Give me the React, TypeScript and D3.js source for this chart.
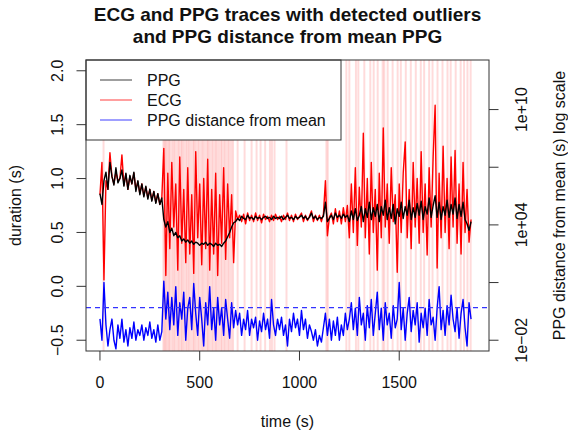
import * as d3 from 'd3'

// samples every 10 s, starting at t = 0
const SAMPLE_STEP = 10

// PPG beat duration (s)
const ppg = [
  0.86, 0.76, 0.98, 1.06, 0.90, 1.15, 1.02, 0.94, 1.10, 0.96,
  1.00, 1.08, 0.93, 1.05, 0.90, 1.03, 0.95, 1.06, 0.88, 0.98,
  0.85, 0.95, 0.83, 0.93, 0.81, 0.90, 0.79, 0.88, 0.77, 0.86,
  0.76, 0.82, 0.62, 0.55, 0.60, 0.50, 0.54, 0.47, 0.50, 0.45,
  0.47, 0.42, 0.44, 0.41, 0.43, 0.40, 0.42, 0.39, 0.41, 0.40,
  0.38, 0.40, 0.39, 0.41, 0.38, 0.40, 0.39, 0.37, 0.40, 0.38,
  0.39, 0.37, 0.40, 0.42, 0.46, 0.50, 0.55, 0.59, 0.60, 0.63,
  0.61, 0.65, 0.63, 0.62, 0.66, 0.63, 0.64, 0.62, 0.65, 0.63,
  0.64, 0.62, 0.64, 0.65, 0.63, 0.64, 0.62, 0.65, 0.63, 0.64,
  0.63, 0.65, 0.62, 0.64, 0.66, 0.63, 0.64, 0.62, 0.65, 0.63,
  0.64, 0.66, 0.63, 0.65, 0.62, 0.64, 0.68, 0.63, 0.65, 0.62,
  0.64, 0.63, 0.65, 0.78, 0.60, 0.63, 0.66, 0.62, 0.68, 0.64,
  0.66, 0.63, 0.67, 0.64, 0.66, 0.60, 0.70, 0.62, 0.72, 0.61,
  0.66, 0.74, 0.60, 0.72, 0.64, 0.78, 0.62, 0.73, 0.65, 0.76,
  0.60, 0.74, 0.66, 0.80, 0.62, 0.73, 0.63, 0.76, 0.58, 0.72,
  0.65, 0.78, 0.63, 0.74, 0.66, 0.80, 0.62, 0.73, 0.64, 0.77,
  0.66, 0.79, 0.62, 0.74, 0.67, 0.82, 0.64, 0.75, 0.84, 0.64,
  0.78, 0.62, 0.74, 0.66, 0.80, 0.64, 0.76, 0.67, 0.82, 0.63,
  0.76, 0.65, 0.78, 0.62, 0.58, 0.52, 0.60,
]

// ECG RR duration (s)
const ecg = [
  0.85, 1.15, 0.06, 0.98, 0.90, 1.24, 1.02, 0.95, 1.06, 0.98,
  1.00, 1.22, 0.94, 1.04, 0.90, 1.02, 0.95, 1.05, 0.90, 0.97,
  0.86, 0.95, 0.84, 0.92, 0.82, 0.90, 0.80, 0.88, 0.78, 0.86,
  0.76, 0.82, 1.28, 0.10, 1.05, 0.35, 1.15, 0.55, 0.95, 0.15,
  1.20, 0.40, 0.90, 0.22, 1.10, 0.30, 0.85, 0.12, 1.25, 0.45,
  0.95, 0.20, 1.00, 0.35, 1.18, 0.15, 0.90, 0.30, 1.05, 0.10,
  0.85, 0.40, 1.10, 0.25, 0.95, 0.45, 0.85, 0.22, 0.70, 0.62,
  0.66, 0.60, 0.67, 0.58, 0.68, 0.61, 0.66, 0.60, 0.68, 0.61,
  0.66, 0.59, 0.67, 0.62, 0.65, 0.60, 0.66, 0.61, 0.67, 0.62,
  0.65, 0.60, 0.66, 0.62, 0.68, 0.61, 0.66, 0.60, 0.67, 0.62,
  0.65, 0.68, 0.60, 0.66, 0.61, 0.65, 0.70, 0.60, 0.66, 0.61,
  0.66, 0.60, 0.67, 0.98, 0.47, 0.64, 0.68, 0.58, 0.72, 0.60,
  0.70, 0.58, 0.73, 0.60, 0.75, 0.45, 0.95, 0.50, 1.10, 0.38,
  0.92, 0.55, 1.42, 0.45, 1.00, 0.30, 1.15, 0.50, 0.90, 0.15,
  1.05, 0.45, 1.47, 0.55, 0.95, 0.40, 1.10, 0.60, 0.85, 0.13,
  0.95, 0.50, 1.05, 1.34, 0.45, 0.90, 0.35, 1.15, 0.55, 1.00,
  0.40, 1.25, 0.50, 0.95, 0.29, 1.10, 0.55, 1.20, 1.68, 0.17,
  1.05, 0.45, 1.30, 0.50, 1.00, 0.35, 1.20, 0.55, 1.26, 0.40,
  0.95, 0.30, 1.15, 0.50, 0.90, 0.41, 0.62,
]

// PPG distance from mean PPG, log10(s), right axis
const ppgDistLog10 = [
  -0.89, -2.0, 1.0, -1.2, -2.3, -1.45, -0.9, -2.0, -2.45, -1.2,
  -1.9, -0.9, -2.1, -1.45, -2.3, -1.35, -1.9, -1.05, -2.0, -1.45,
  -1.75, -1.2, -2.0, -1.35, -1.75, -1.05, -1.9, -1.45, -2.1, -1.2,
  -2.0, -1.55, 1.07, -0.9, 0.5, -1.45, 0.23, -1.2, 0.79, -1.75,
  -0.05, -0.9, 0.5, -2.0, -0.33, 0.23, -1.45, 0.95, -0.6, -1.75,
  0.23, -0.9, -2.3, -0.05, -1.2, 0.79, -1.45, -0.33, -2.0, 0.23,
  -1.2, -0.33, -1.75, 0.12, -0.9, -1.9, -0.05, -1.35, -0.45, -1.2,
  -0.6, -1.75, -0.9, -1.45, -0.45, -1.75, -0.9, -1.35, -0.8, -2.0,
  -1.0, -1.55, -0.6, -1.45, -0.9, -1.9, 0.12, -1.2, -1.75, -0.9,
  -1.45, -0.8, -1.75, -1.2, -2.3, -0.9, -1.55, -0.6, -1.35, -0.9,
  -1.75, -0.45, -1.45, -0.9, -1.9, -1.2, -1.55, -2.0, -1.45, -2.3,
  -1.75, -2.1, -1.35, -0.6, -1.75, -0.9, -2.0, -1.0, -1.75, -0.8,
  -2.0, -1.2, -1.75, -0.6, -1.45, -0.9, -0.05, -1.45, -0.33, -1.75,
  0.23, -1.2, -0.6, -2.0, -0.2, -1.35, 0.12, -1.75, -0.6, 0.5,
  -1.45, -0.33, -2.0, -0.05, -1.2, -0.6, -1.9, -0.2, -1.35, -0.9,
  1.0, -1.45, -0.33, -2.0, -0.6, 0.23, -1.55, -0.45, -1.2, -0.05,
  -2.1, -0.6, -1.35, -0.33, -1.75, 0.12, -1.2, -0.8, -2.0, -0.33,
  0.79, -1.45, -0.45, -1.75, -0.2, -1.2, 0.34, -0.9, -1.55, -0.33,
  -1.9, -0.6, 0.12, -1.35, -2.3, -0.05, -0.9,
]

// times (s) of detected outliers
const outlierTimes = [
  18, 318, 324, 330, 338, 345, 352, 362, 370, 378, 388, 396, 405, 412, 420,
  430, 438, 446, 455, 465, 472, 480, 490, 498, 508, 516, 525, 535, 542, 550,
  560, 568, 578, 585, 595, 605, 612, 622, 630, 640, 648, 658, 667, 690, 725,
  760, 785, 805, 828, 852, 862, 875, 935, 1135, 1142, 1235, 1250, 1283, 1295,
  1325, 1355, 1372, 1392, 1417, 1425, 1442, 1467, 1492, 1508, 1533, 1558,
  1583, 1608, 1625, 1650, 1667, 1692, 1717, 1742, 1758, 1783, 1808, 1825,
  1842, 1858,
]

const DIST_THRESHOLD = 0.5

const xTicks = [0, 500, 1000, 1500]
const yTicks = [-0.5, 0, 0.5, 1, 1.5, 2]
const distTicks = [1e-2, 1e1, 1e4, 1e7, 1e10]
const distTickLabels = ['1e\u221202', '', '1e+04', '', '1e+10']

const legendNames = ['PPG', 'ECG', 'PPG distance from mean']
const legendColors = ['#000000', '#ff0000', '#0000ff']

const FONT = '"Liberation Sans", Arial, Helvetica, sans-serif'

export default function App() {
  const width = 568
  const height = 434
  const left = 86, right = 489, top = 60, bottom = 351

  const x = d3.scaleLinear().domain([-70, 1950]).range([left, right])
  const y = d3.scaleLinear().domain([-0.6, 2.1]).range([bottom, top])
  const yDist = d3.scaleLog().domain([1e-2, 1e10]).range([y(-0.5), y(1.64)])

  const line = d3.line<number>()
    .x((_, i) => x(i * SAMPLE_STEP))
    .y(d => y(d))
  const distLine = d3.line<number>()
    .x((_, i) => x(i * SAMPLE_STEP))
    .y(d => yDist(Math.pow(10, d)))

  const fmt = d3.format('.1f')
  const cy = (top + bottom) / 2
  const cx = (left + right) / 2

  return (
    <svg width={width} height={height} style={{ position: 'absolute', left: 0, top: 0 }}
      fontFamily={FONT}>
      <rect width={width} height={height} fill="#fff" />
      <defs>
        <clipPath id="plot">
          <rect x={left} y={top} width={right - left} height={bottom - top} />
        </clipPath>
      </defs>

      <g clipPath="url(#plot)">
        {outlierTimes.map((t, i) => (
          <line key={i} x1={x(t)} x2={x(t)} y1={top} y2={bottom}
            stroke="rgba(255,0,0,0.14)" strokeWidth={2} />
        ))}
        <path d={line(ecg) ?? ''} fill="none" stroke="#ff0000" strokeWidth={1.4} strokeLinejoin="round" />
        <path d={line(ppg) ?? ''} fill="none" stroke="#000" strokeWidth={1.4} strokeLinejoin="round" />
        <path d={distLine(ppgDistLog10) ?? ''} fill="none" stroke="#0000ff" strokeWidth={1.4} strokeLinejoin="round" />
        <line x1={left} x2={right} y1={yDist(DIST_THRESHOLD)} y2={yDist(DIST_THRESHOLD)}
          stroke="#3333ff" strokeDasharray="5,4" strokeWidth={1.2} />
      </g>

      {/* legend */}
      <g>
        <rect x={left} y={top} width={255} height={80} fill="#fff" stroke="#333" />
        {legendNames.map((name, i) => (
          <g key={name} transform={`translate(${left},${top + 20 + i * 20})`}>
            <line x1={14} x2={46} stroke={legendColors[i]} strokeOpacity={0.5} strokeWidth={1.5} />
            <text x={61} dy="0.35em" fontSize={16} fill="#111">{name}</text>
          </g>
        ))}
      </g>

      <rect x={left} y={top} width={right - left} height={bottom - top} fill="none" stroke="#333" />

      {/* x axis */}
      {xTicks.map(t => (
        <g key={t}>
          <line x1={x(t)} x2={x(t)} y1={bottom} y2={bottom + 9.5} stroke="#333" />
          <text x={x(t)} y={388} textAnchor="middle" fontSize={16} fill="#111">{t}</text>
        </g>
      ))}
      <text x={cx} y={427} textAnchor="middle" fontSize={16} fill="#111">time (s)</text>

      {/* left axis */}
      {yTicks.map(t => (
        <g key={t}>
          <line x1={left} x2={left - 9.5} y1={y(t)} y2={y(t)} stroke="#333" />
          <text transform={`translate(63,${y(t)}) rotate(-90)`} textAnchor="middle" fontSize={16} fill="#111">{fmt(t)}</text>
        </g>
      ))}
      <text transform={`translate(21,${cy}) rotate(-90)`} textAnchor="middle" fontSize={16} fill="#111">duration (s)</text>

      {/* right axis */}
      {distTicks.map((t, i) => (
        <g key={t}>
          <line x1={right} x2={right + 9.5} y1={yDist(t)} y2={yDist(t)} stroke="#333" />
          {distTickLabels[i] && (
            <text transform={`translate(527,${yDist(t)}) rotate(-90)`} textAnchor="middle" fontSize={16} fill="#111">{distTickLabels[i]}</text>
          )}
        </g>
      ))}
      <text transform={`translate(565,${cy}) rotate(-90)`} textAnchor="middle" fontSize={16} fill="#111">PPG distance from mean (s) log scale</text>

      {/* title */}
      <text x={cx} y={21} textAnchor="middle" fontSize={19} fontWeight="bold" fill="#111">ECG and PPG traces with detected outliers</text>
      <text x={cx} y={43} textAnchor="middle" fontSize={19} fontWeight="bold" fill="#111">and PPG distance from mean PPG</text>
    </svg>
  )
}
